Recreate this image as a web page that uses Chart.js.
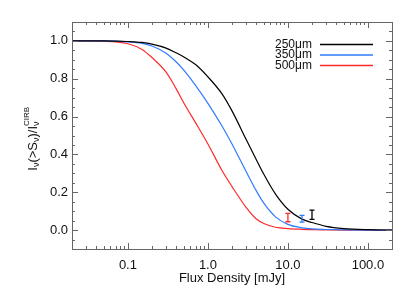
<!DOCTYPE html>
<html>
<head>
<meta charset="utf-8">
<script src="https://cdn.jsdelivr.net/npm/chart.js@4"></script>
<style>
  html, body { margin: 0; padding: 0; background: #fff; }
  #wrap { width: 414px; height: 296px; }
</style>
</head>
<body>
<div id="wrap"><canvas id="chart" width="414" height="296"></canvas></div>
<script>
const fluxMJy = [0.02, 0.05, 0.1, 0.15, 0.2, 0.3, 0.4, 0.5, 0.7, 1.0, 1.5, 2, 3, 4, 5, 7, 10, 15, 20, 30, 50, 100, 200];
const frac250 = [1.0, 1.0, 0.997, 0.992, 0.983, 0.962, 0.937, 0.915, 0.875, 0.81, 0.72, 0.63, 0.48, 0.375, 0.295, 0.19, 0.11, 0.058, 0.04, 0.02, 0.008, 0.002, 0.0];
const frac350 = [1.0, 1.0, 0.995, 0.987, 0.973, 0.935, 0.89, 0.845, 0.765, 0.67, 0.55, 0.455, 0.31, 0.21, 0.142, 0.07, 0.03, 0.012, 0.006, 0.003, 0.001, 0.0, 0.0];
const frac500 = [1.0, 0.998, 0.985, 0.955, 0.912, 0.835, 0.748, 0.672, 0.568, 0.455, 0.315, 0.23, 0.12, 0.06, 0.035, 0.015, 0.008, 0.004, 0.002, 0.001, 0.0, 0.0, 0.0];

const seriesLabels = ['250\u03bcm', '350\u03bcm', '500\u03bcm'];
const seriesColors = ['#000000', '#2f7bff', '#ff2b2b'];

// measured points with error bars, one per band
const errFlux = [20, 15, 10];
const errLow = [0.057, 0.042, 0.044];
const errHigh = [0.106, 0.078, 0.088];

const xTickValues = [0.1, 1, 10, 100];
const yTickValues = [0.0, 0.2, 0.4, 0.6, 0.8, 1.0];

const FONT = '"Liberation Sans", Arial, Helvetica, sans-serif';
const AXIS_COLOR = '#666';

const toPoints = vals => fluxMJy.map((f, i) => ({ x: f, y: vals[i] }));

function minorX() {
  const out = [];
  for (let d = 0.01; d < 1000; d *= 10) {
    for (let m = 1; m <= 9; m++) {
      const v = +(m * d).toPrecision(3);
      if (v >= 0.02 && v <= 200) out.push({ v, major: m === 1 });
    }
  }
  return out;
}

function minorY() {
  const out = [];
  for (let k = -2; k <= 22; k++) {
    const v = +(k * 0.05).toFixed(2);
    out.push({ v, major: k % 4 === 0 });
  }
  return out;
}

const framePlugin = {
  id: 'frame',
  afterDatasetsDraw(chart) {
    const { ctx, chartArea: a, scales } = chart;
    const xs = scales.x, ys = scales.y;
    ctx.save();

    // error bars
    ctx.lineWidth = 1.3;
    errFlux.forEach((f, i) => {
      const px = xs.getPixelForValue(f);
      const lo = ys.getPixelForValue(errLow[i]);
      const hi = ys.getPixelForValue(errHigh[i]);
      ctx.strokeStyle = seriesColors[i];
      ctx.beginPath();
      ctx.moveTo(px, lo); ctx.lineTo(px, hi);
      ctx.moveTo(px - 2.5, lo); ctx.lineTo(px + 2.5, lo);
      ctx.moveTo(px - 2.5, hi); ctx.lineTo(px + 2.5, hi);
      ctx.stroke();
    });

    // box and inward ticks
    ctx.strokeStyle = AXIS_COLOR;
    ctx.lineWidth = 1;
    ctx.strokeRect(a.left + 0.5, a.top + 0.5, a.right - a.left, a.bottom - a.top);
    ctx.beginPath();
    minorX().forEach(t => {
      const px = Math.round(xs.getPixelForValue(t.v)) + 0.5;
      const len = t.major ? 6 : 3;
      ctx.moveTo(px, a.bottom); ctx.lineTo(px, a.bottom - len);
      ctx.moveTo(px, a.top); ctx.lineTo(px, a.top + len);
    });
    minorY().forEach(t => {
      const py = Math.round(ys.getPixelForValue(t.v)) + 0.5;
      const len = t.major ? 6 : 3;
      ctx.moveTo(a.left, py); ctx.lineTo(a.left + len, py);
      ctx.moveTo(a.right, py); ctx.lineTo(a.right - len, py);
    });
    ctx.stroke();

    // legend
    ctx.font = '12px ' + FONT;
    ctx.textBaseline = 'middle';
    ctx.textAlign = 'left';
    seriesLabels.forEach((lab, i) => {
      const y = 44.5 + i * 10.5;
      ctx.fillStyle = '#111';
      ctx.fillText(lab, 275, y);
      ctx.strokeStyle = seriesColors[i];
      ctx.lineWidth = 1.3;
      ctx.beginPath();
      ctx.moveTo(320, y); ctx.lineTo(373, y);
      ctx.stroke();
    });

    // x title
    ctx.fillStyle = '#111';
    ctx.font = '13px ' + FONT;
    ctx.textAlign = 'center';
    ctx.fillText('Flux Density [mJy]', (a.left + a.right) / 2, 278);

    // y title with sub/superscripts, rotated
    ctx.translate(33, (a.top + a.bottom) / 2 + 3);
    ctx.rotate(-Math.PI / 2);
    const parts = [
      ['I', 13, 0], ['\u03bd', 9, 4], ['(>S', 13, 0], ['\u03bd', 9, 4],
      [')/I', 13, 0], ['\u03bd', 9, 4]
    ];
    let w = 0;
    parts.forEach(p => { ctx.font = p[1] + 'px ' + FONT; w += ctx.measureText(p[0]).width; });
    ctx.font = '8px ' + FONT;
    const supW = ctx.measureText('CIRB').width;
    let x = -(w + supW - ctx.measureText('\u03bd').width) / 2;
    ctx.textAlign = 'left';
    let lastX = 0;
    parts.forEach(p => {
      ctx.font = p[1] + 'px ' + FONT;
      lastX = x;
      ctx.fillText(p[0], x, p[2]);
      x += ctx.measureText(p[0]).width;
    });
    ctx.font = '8px ' + FONT;
    ctx.fillText('CIRB', lastX, -6);
    ctx.restore();
  }
};

new Chart(document.getElementById('chart'), {
  type: 'line',
  data: {
    datasets: [frac250, frac350, frac500].map((vals, i) => ({
      label: seriesLabels[i],
      data: toPoints(vals),
      borderColor: seriesColors[i],
      borderWidth: 1.2,
      pointRadius: 0,
      cubicInterpolationMode: 'monotone',
      fill: false,
    })),
  },
  options: {
    responsive: false,
    animation: false,
    layout: { padding: { top: 22, right: 22, left: 0, bottom: 0 } },
    plugins: { legend: { display: false }, tooltip: { enabled: false } },
    scales: {
      x: {
        type: 'logarithmic',
        min: 0.02,
        max: 200,
        grid: { display: false, drawTicks: false },
        border: { display: false },
        afterBuildTicks: s => { s.ticks = xTickValues.map(v => ({ value: v })); },
        afterFit: s => { s.height = 47; },
        ticks: {
          autoSkip: false,
          maxRotation: 0,
          padding: 9,
          color: '#111',
          font: { family: FONT, size: 13 },
          callback: v => v.toFixed(1),
        },
      },
      y: {
        min: -0.1,
        max: 1.1,
        grid: { display: false, drawTicks: false },
        border: { display: false },
        afterBuildTicks: s => { s.ticks = yTickValues.map(v => ({ value: v })); },
        afterFit: s => { s.width = 72; },
        ticks: {
          padding: 4,
          color: '#111',
          font: { family: FONT, size: 13 },
          callback: v => v.toFixed(1),
        },
      },
    },
  },
  plugins: [framePlugin],
});
</script>
</body>
</html>
